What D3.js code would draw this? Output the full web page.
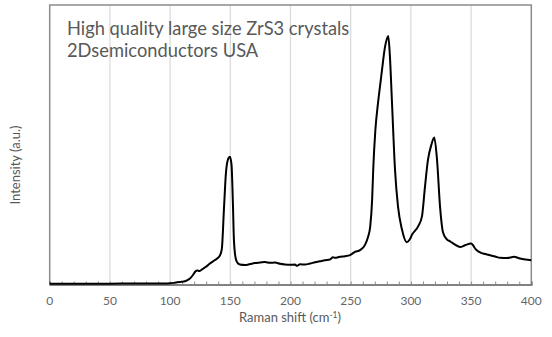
<!DOCTYPE html>
<html><head><meta charset="utf-8">
<script src="https://cdn.jsdelivr.net/npm/d3@7"></script>
<style>body{margin:0;background:#fff}svg{display:block}</style>
</head><body>
<svg id="c" width="552" height="337"></svg>
<script>
const shift = [0,20,40,60,80,95,100,104,108,113,116.5,119,121,122.5,124.5,127,129.5,133,137.3,141.4,143,144.7,146.4,148,149.7,151,152.2,153,154.7,156.5,158,162.2,166.4,170.5,174.7,178.8,183,187.2,191.3,195.4,199.6,203.7,205.4,207.9,212,216.2,220.4,224.5,228.7,232.8,235.3,237,241.1,245.3,249.5,253.6,257.8,262,264.5,266.2,267.8,268.7,270.5,272.7,274.5,276,278.5,280,281.2,282.5,284.3,286.8,289.3,292.6,296.5,299,301,306,309.2,311.7,314.2,317,319.4,321.7,324.2,326.7,330,332.5,336.6,340.8,345,350,354,358.3,362,365.7,370,374,380,385.6,390.6,395,400];
const intensity = [0.7,0.8,0.8,0.9,0.9,1.0,1.2,1.8,2.5,3.5,6,9.5,13,14,13.5,15.5,17.5,21,24.5,29,36,75,112,125,128,120,80,45,25,21,20,19.5,20.5,21.5,22,22.5,21.7,22,20.7,20,19.7,20,18.7,20.3,20,21,22.3,23.3,24.3,25,27.3,26.7,27.7,28.3,29.5,32.7,34.5,40,48,58,85,115,155,182,200,215,238,246,249,230,182,115,78,55,42.3,45,50,58.3,68.3,98,125,140,147.3,125,78,52,45,43.3,40,37.5,39.3,41,35,31.7,30.5,29.3,28,26.7,26.5,27.7,26,25,24.3];
const xTicks = [0,50,100,150,200,250,300,350,400];
const titleLines = ["High quality large size ZrS3 crystals","2Dsemiconductors USA"];

const svg = d3.select("#c");
const L=49.7, R=531.3, T=5, B=284.5;
const x = d3.scaleLinear().domain([0,400]).range([L,R]);
const y = d3.scaleLinear().domain([0,280]).range([B,T]);

// grid
svg.append("g").selectAll("line").data(xTicks.slice(1,-1)).join("line")
  .attr("x1",d=>x(d)).attr("x2",d=>x(d)).attr("y1",T).attr("y2",B)
  .attr("stroke","#d9d9d9").attr("stroke-width",1.2);

// border top/right/left
svg.append("path").attr("d",`M${L},${B}V${T}H${R}V${B}`)
  .attr("fill","none").attr("stroke","#8c8c8c").attr("stroke-width",1.5);

// x axis
const xa = svg.append("g").attr("transform",`translate(0,${B})`)
  .call(d3.axisBottom(x).tickValues(d3.range(0,401,10)).tickSize(-3).tickFormat(""));
xa.select(".domain").attr("stroke","#595959").attr("stroke-width",1.5);
xa.selectAll(".tick line").attr("stroke","#8c8c8c");

svg.append("g").selectAll("text").data(xTicks).join("text")
  .attr("x",d=>x(d)).attr("y",304.5).attr("text-anchor","middle")
  .attr("font-family","Lato, sans-serif").attr("font-size",12).attr("fill","#666")
  .text(d=>d);

// curve
const line = d3.line().x((d,i)=>x(shift[i])).y(d=>y(d)).curve(d3.curveMonotoneX);
svg.append("path").attr("d",line(intensity)).attr("fill","none")
  .attr("stroke","#000").attr("stroke-width",2).attr("stroke-linejoin","round");

// axis titles
const xt = svg.append("text").attr("x",290).attr("y",322).attr("text-anchor","middle")
  .attr("font-family","Lato, sans-serif").attr("font-size",13).attr("fill","#595959");
xt.append("tspan").text("Raman shift (cm");
xt.append("tspan").attr("dy",-4).attr("font-size",8.5).text("-1");
xt.append("tspan").attr("dy",4).text(")");

svg.append("text").attr("transform","translate(20,165) rotate(-90)")
  .attr("text-anchor","middle").attr("font-family","Lato, sans-serif")
  .attr("font-size",13).attr("fill","#595959").text("Intensity (a.u.)");

svg.append("g").selectAll("text").data(titleLines).join("text")
  .attr("x",67).attr("y",(d,i)=>35+i*22)
  .attr("font-family","Lato, sans-serif").attr("font-size",18.3).attr("fill","#595959")
  .text(d=>d);
</script>
</body></html>
